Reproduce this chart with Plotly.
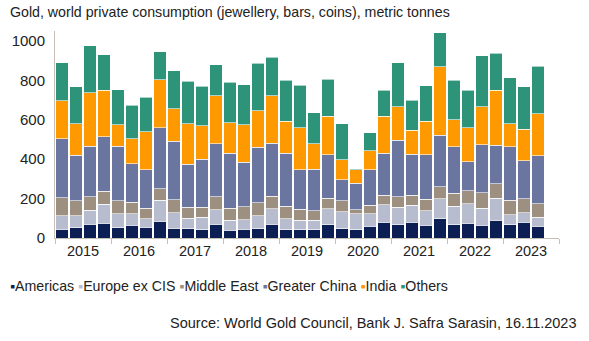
import plotly.graph_objects as go

# Quarterly private gold consumption by region, metric tonnes (2015 Q1 - 2023 Q3)
years = ["2015", "2016", "2017", "2018", "2019", "2020", "2021", "2022", "2023"]
quarters = [f"{y} Q{q}" for y in years for q in range(1, 5)][:35]

americas = [44, 51, 69, 76, 52, 64, 54, 86,
            49, 46, 42, 69, 39, 44, 46, 71,
            42, 42, 42, 68, 46, 42, 59, 81,
            66, 80, 64, 98, 66, 76, 64, 90,
            68, 80, 59]
europe = [69, 61, 71, 95, 70, 58, 44, 105,
          80, 54, 63, 75, 51, 49, 66, 78,
          56, 48, 49, 81, 88, 80, 63, 88,
          90, 86, 75, 100, 95, 98, 88, 111,
          50, 47, 46]
middle_east = [90, 78, 70, 66, 66, 59, 54, 59,
               64, 57, 52, 66, 62, 66, 67, 64,
               64, 57, 48, 52, 54, 22, 44, 48,
               52, 51, 57, 61, 67, 65, 78, 73,
               73, 73, 69]
greater_china = [301, 230, 255, 276, 277, 196, 193, 308,
                 298, 217, 242, 267, 279, 225, 281, 268,
                 269, 198, 211, 222, 108, 135, 179, 213,
                 289, 208, 227, 262, 236, 148, 242, 196,
                 273, 193, 244]
india = [193, 160, 273, 237, 109, 127, 195, 244,
         164, 205, 170, 245, 154, 191, 185, 240,
         161, 213, 127, 195, 102, 66, 98, 188,
         168, 122, 169, 347, 135, 173, 193, 280,
         115, 159, 213]
others = [191, 188, 238, 179, 179, 169, 174, 142,
          194, 215, 201, 158, 205, 203, 242, 196,
          208, 217, 158, 187, 182, 7, 90, 132,
          223, 152, 180, 173, 201, 190, 259, 186,
          233, 214, 240]

series = [
    ("Americas", americas, "#0c1f55"),
    ("Europe ex CIS", europe, "#b7bdcf"),
    ("Middle East", middle_east, "#9d9080"),
    ("Greater China", greater_china, "#6a76a0"),
    ("India", india, "#ff9900"),
    ("Others", others, "#2e9479"),
]

x_pos = list(range(len(quarters)))

fig = go.Figure()
for name, values, color in series:
    fig.add_trace(go.Bar(
        x=x_pos, y=values, name=name, customdata=quarters,
        marker=dict(color=color, line=dict(color="white", width=0.6)),
        hovertemplate="%{customdata}<br>" + name + ": %{y} t<extra></extra>",
    ))

year_centers = [4 * i + 1.5 for i in range(len(years))]
font_family = "Liberation Sans, Arial, sans-serif"

fig.update_layout(
    barmode="stack",
    bargap=0.14,
    width=589, height=341,
    margin=dict(l=51, r=30, t=31, b=103),
    paper_bgcolor="white", plot_bgcolor="white",
    showlegend=False,
    font=dict(family=font_family, color="#222222"),
    xaxis=dict(
        range=[-0.5, 35.5],
        tickvals=year_centers, ticktext=years,
        ticks="", showgrid=False, zeroline=False,
        showline=True, linecolor="#c8c0b8", linewidth=1,
        tickfont=dict(size=14.5, color="#222222"),
        minor=dict(tickmode="linear", tick0=-0.5, dtick=4,
                   ticks="outside", ticklen=5, tickcolor="#c8c0b8",
                   showgrid=False),
    ),
    yaxis=dict(
        range=[0, 1050],
        tickvals=[0, 200, 400, 600, 800, 1000],
        showgrid=False, zeroline=False,
        showline=True, linecolor="#c8c0b8", linewidth=1,
        ticks="", ticklabelstandoff=6,
        tickfont=dict(size=15, color="#222222"),
    ),
)

fig.add_annotation(
    text="Gold, world private consumption (jewellery, bars, coins), metric tonnes",
    xref="paper", yref="paper", x=0, y=1, xshift=-47, yshift=19,
    xanchor="left", yanchor="middle", showarrow=False,
    font=dict(size=14.2, color="#222222"),
)

legend_html = "".join(
    f"<span style='color:{color}'>▪</span>{name} " for name, _, color in series
)
fig.add_annotation(
    text=legend_html.strip(),
    xref="paper", yref="paper", x=0, y=0, xshift=-47, yshift=-48,
    xanchor="left", yanchor="middle", showarrow=False,
    font=dict(size=14.2, color="#222222"),
)

fig.add_annotation(
    text="Source: World Gold Council, Bank J. Safra Sarasin, 16.11.2023",
    xref="paper", yref="paper", x=1, y=0, xshift=20, yshift=-85,
    xanchor="right", yanchor="middle", showarrow=False,
    font=dict(size=14.5, color="#222222"),
)

fig.write_html("out.html")
